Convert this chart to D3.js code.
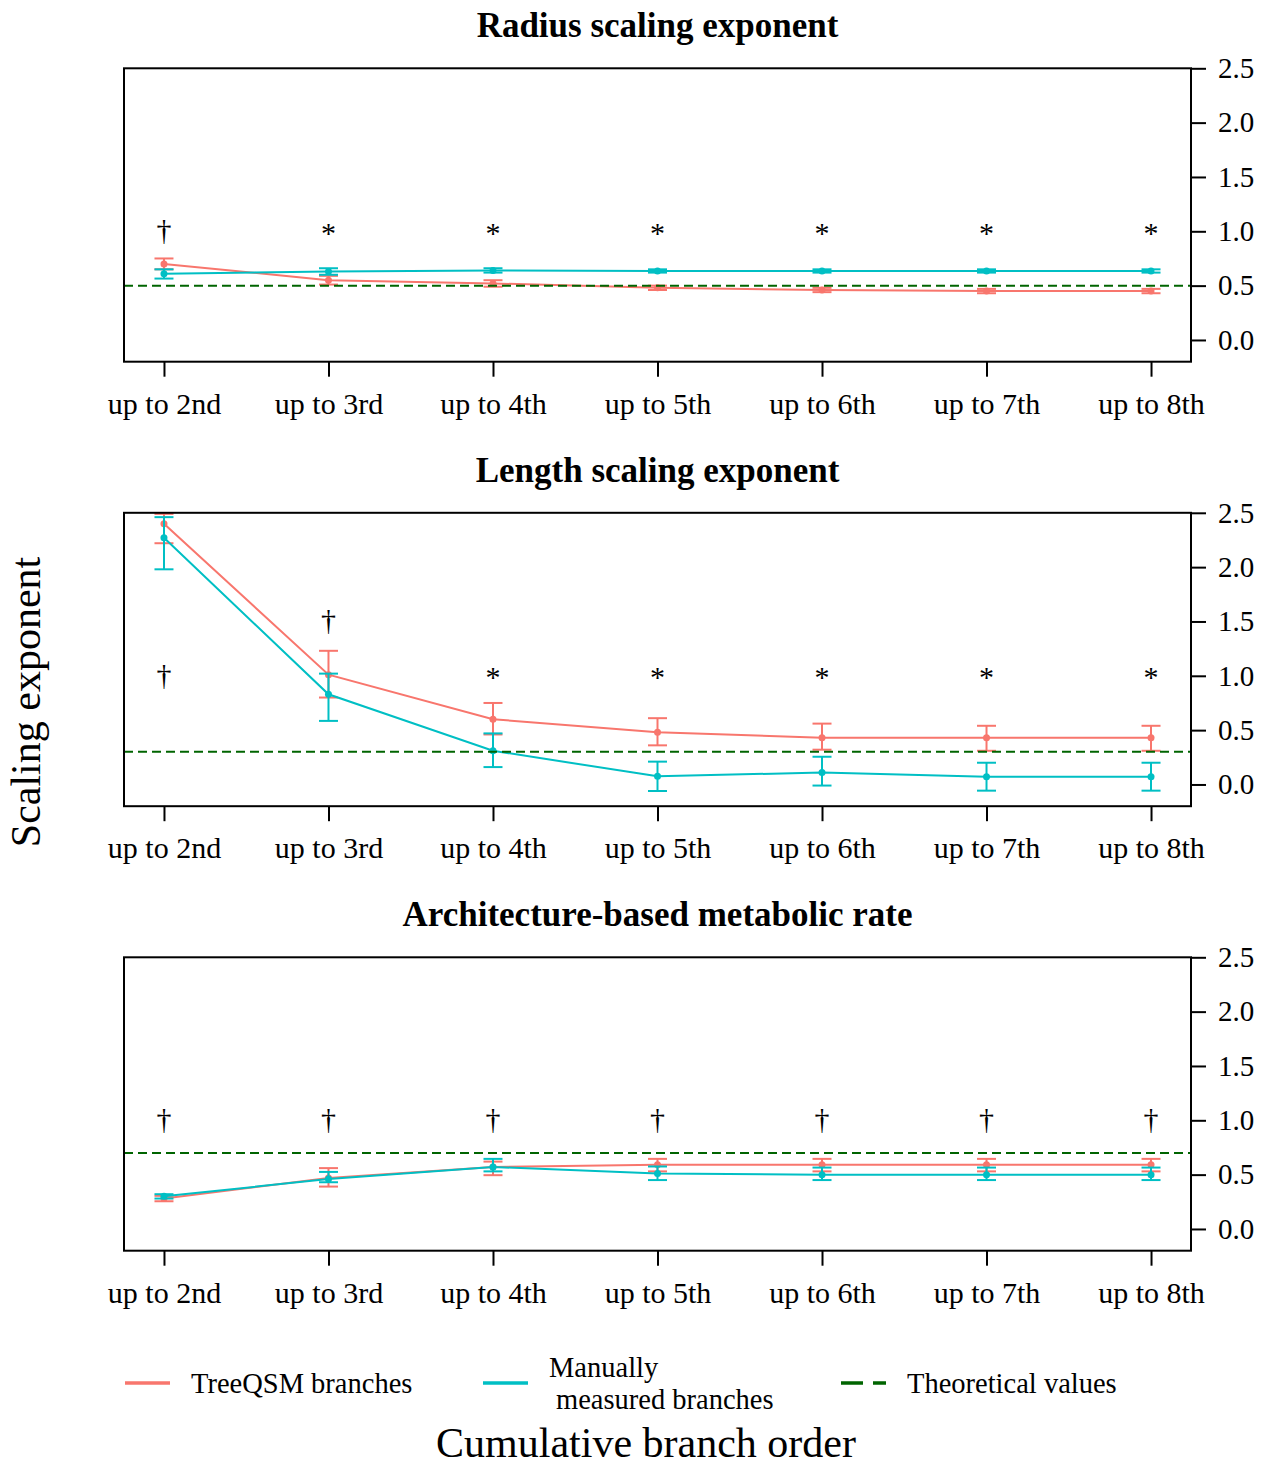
<!DOCTYPE html>
<html>
<head>
<meta charset="utf-8">
<script src="https://cdn.jsdelivr.net/npm/d3@7"></script>
<style>
  body { margin: 0; background: #fff; }
  svg text { font-family: "Liberation Serif", "Times New Roman", serif; fill: #000; }
</style>
</head>
<body>
<div class="chart"></div>
<script>
var categories = ["up to 2nd", "up to 3rd", "up to 4th", "up to 5th", "up to 6th", "up to 7th", "up to 8th"];
var titles = ["Radius scaling exponent", "Length scaling exponent", "Architecture-based metabolic rate"];
var yTicks = [0, 0.5, 1, 1.5, 2, 2.5];

// radius scaling exponent
var radiusQSM   = [0.70, 0.55, 0.52, 0.48, 0.46, 0.45, 0.45];
var radiusQSMLo = [0.65, 0.51, 0.49, 0.46, 0.44, 0.43, 0.43];
var radiusQSMHi = [0.75, 0.59, 0.55, 0.50, 0.48, 0.47, 0.47];
var radiusMan   = [0.61, 0.63, 0.64, 0.635, 0.635, 0.635, 0.635];
var radiusManLo = [0.565, 0.60, 0.62, 0.62, 0.62, 0.62, 0.62];
var radiusManHi = [0.65, 0.66, 0.66, 0.65, 0.65, 0.65, 0.65];
var radiusTheory = 0.5;
var radiusSig  = ["†", "*", "*", "*", "*", "*", "*"];
var radiusSigY = [1, 1, 1, 1, 1, 1, 1];

// length scaling exponent
var lengthQSM   = [2.40, 1.01, 0.60, 0.48, 0.43, 0.43, 0.43];
var lengthQSMLo = [2.22, 0.80, 0.46, 0.36, 0.32, 0.31, 0.31];
var lengthQSMHi = [2.49, 1.23, 0.75, 0.61, 0.56, 0.54, 0.54];
var lengthMan   = [2.27, 0.83, 0.31, 0.075, 0.11, 0.07, 0.07];
var lengthManLo = [1.98, 0.585, 0.16, -0.06, -0.01, -0.057, -0.057];
var lengthManHi = [2.46, 1.02, 0.47, 0.21, 0.255, 0.20, 0.20];
var lengthTheory = 0.3;
var lengthSig  = ["†", "†", "*", "*", "*", "*", "*"];
var lengthSigY = [1, 1.5, 1, 1, 1, 1, 1];

// architecture-based metabolic rate
var metabQSM   = [0.28, 0.47, 0.57, 0.59, 0.59, 0.59, 0.59];
var metabQSMLo = [0.255, 0.39, 0.495, 0.53, 0.53, 0.53, 0.53];
var metabQSMHi = [0.305, 0.56, 0.62, 0.645, 0.645, 0.645, 0.645];
var metabMan   = [0.30, 0.46, 0.57, 0.51, 0.50, 0.50, 0.50];
var metabManLo = [0.28, 0.43, 0.53, 0.45, 0.45, 0.45, 0.45];
var metabManHi = [0.32, 0.525, 0.645, 0.575, 0.565, 0.565, 0.565];
var metabTheory = 0.7;
var metabSig  = ["†", "†", "†", "†", "†", "†", "†"];
var metabSigY = [1, 1, 1, 1, 1, 1, 1];

var red = "#F8766D", cyan = "#00BFC4", green = "#006400";

var panels = [
  {title: titles[0], qsm: [radiusQSM, radiusQSMLo, radiusQSMHi], man: [radiusMan, radiusManLo, radiusManHi], theory: radiusTheory, sig: radiusSig, sigY: radiusSigY},
  {title: titles[1], qsm: [lengthQSM, lengthQSMLo, lengthQSMHi], man: [lengthMan, lengthManLo, lengthManHi], theory: lengthTheory, sig: lengthSig, sigY: lengthSigY},
  {title: titles[2], qsm: [metabQSM, metabQSMLo, metabQSMHi], man: [metabMan, metabManLo, metabManHi], theory: metabTheory, sig: metabSig, sigY: metabSigY}
];

var W = 1261, H = 1468;
var left = 124, right = 1191, panelH = 293.4, firstTop = 68.3, gap = 444.5;

var svg = d3.select(".chart").append("svg").attr("width", W).attr("height", H);

var x = d3.scalePoint().domain(categories).range([left, right]).padding(0.243);

panels.forEach(function(p, k) {
  var top = firstTop + k * gap;
  var y = d3.scaleLinear().domain([-0.2, 2.5]).range([top + panelH, top]);
  var g = svg.append("g");

  g.append("text").attr("x", (left + right) / 2).attr("y", top - 31)
    .attr("text-anchor", "middle").attr("font-size", 35).attr("font-weight", "bold").text(p.title);

  // x axis
  var xa = g.append("g").attr("transform", "translate(0," + (top + panelH) + ")")
    .call(d3.axisBottom(x).tickSize(15).tickPadding(16));
  xa.select(".domain").remove();
  xa.selectAll("line").attr("stroke-width", 2);
  xa.selectAll("text").attr("font-size", 30).attr("font-family", "Liberation Serif");

  // y axis on right
  var ya = g.append("g").attr("transform", "translate(" + right + ",0)")
    .call(d3.axisRight(y).tickValues(yTicks).tickFormat(d3.format(".1f")).tickSize(15).tickPadding(12));
  ya.select(".domain").remove();
  ya.selectAll("line").attr("stroke-width", 2);
  ya.selectAll("text").attr("font-size", 29).attr("font-family", "Liberation Serif");

  // significance markers
  g.selectAll(".sig").data(p.sig).enter().append("text")
    .attr("x", function(d, i) { return x(categories[i]); })
    .attr("y", function(d, i) { return y(p.sigY[i]); })
    .attr("dy", function(d) { return d == "*" ? "0.38em" : "0.3em"; })
    .attr("text-anchor", "middle").attr("font-size", 30).text(function(d) { return d; });

  function series(s, col) {
    var pts = s[0].map(function(v, i) { return {c: categories[i], v: v, lo: s[1][i], hi: s[2][i]}; });
    var line = d3.line().x(function(d) { return x(d.c); }).y(function(d) { return y(d.v); });
    g.append("path").datum(pts).attr("d", line).attr("fill", "none").attr("stroke", col).attr("stroke-width", 2);
    var eb = g.selectAll(null).data(pts).enter().append("g").attr("stroke", col).attr("stroke-width", 2);
    eb.append("line").attr("x1", function(d) { return x(d.c); }).attr("x2", function(d) { return x(d.c); })
      .attr("y1", function(d) { return y(d.lo); }).attr("y2", function(d) { return y(d.hi); });
    eb.append("line").attr("x1", function(d) { return x(d.c) - 9.5; }).attr("x2", function(d) { return x(d.c) + 9.5; })
      .attr("y1", function(d) { return y(d.lo); }).attr("y2", function(d) { return y(d.lo); });
    eb.append("line").attr("x1", function(d) { return x(d.c) - 9.5; }).attr("x2", function(d) { return x(d.c) + 9.5; })
      .attr("y1", function(d) { return y(d.hi); }).attr("y2", function(d) { return y(d.hi); });
    g.selectAll(null).data(pts).enter().append("circle")
      .attr("cx", function(d) { return x(d.c); }).attr("cy", function(d) { return y(d.v); })
      .attr("r", 3.5).attr("fill", col);
  }
  series(p.qsm, red);
  series(p.man, cyan);

  g.append("line").attr("x1", left).attr("x2", right).attr("y1", y(p.theory)).attr("y2", y(p.theory))
    .attr("stroke", green).attr("stroke-width", 2).attr("stroke-dasharray", "9,5");

  g.append("rect").attr("x", left).attr("y", top).attr("width", right - left).attr("height", panelH)
    .attr("fill", "none").attr("stroke", "#000").attr("stroke-width", 2);
});

// y label
svg.append("text").attr("transform", "translate(40,702) rotate(-90)")
  .attr("text-anchor", "middle").attr("font-size", 42).text("Scaling exponent");

// legend
var lg = svg.append("g");
lg.append("line").attr("x1", 125).attr("x2", 170).attr("y1", 1383).attr("y2", 1383).attr("stroke", red).attr("stroke-width", 3.5);
lg.append("text").attr("x", 191).attr("y", 1393).attr("font-size", 28.5).text("TreeQSM branches");
lg.append("line").attr("x1", 483).attr("x2", 528).attr("y1", 1383).attr("y2", 1383).attr("stroke", cyan).attr("stroke-width", 3.5);
lg.append("text").attr("x", 549).attr("y", 1377).attr("font-size", 28.5).text("Manually");
lg.append("text").attr("x", 556).attr("y", 1409).attr("font-size", 28.5).text("measured branches");
lg.append("line").attr("x1", 841).attr("x2", 886).attr("y1", 1383).attr("y2", 1383).attr("stroke", green).attr("stroke-width", 3.5).attr("stroke-dasharray", "22,10");
lg.append("text").attr("x", 907).attr("y", 1393).attr("font-size", 28.5).text("Theoretical values");

svg.append("text").attr("x", 646).attr("y", 1457).attr("text-anchor", "middle").attr("font-size", 42).text("Cumulative branch order");
</script>
</body>
</html>
